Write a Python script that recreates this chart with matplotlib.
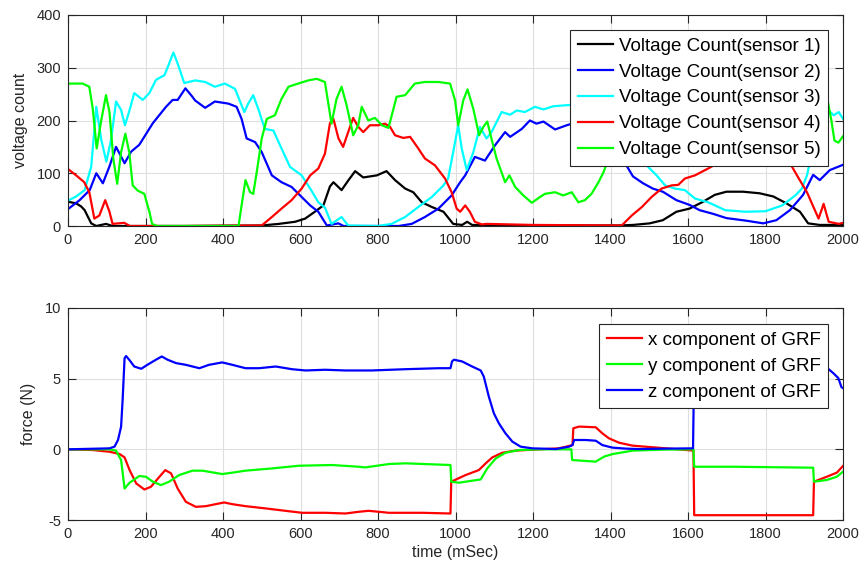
import matplotlib
matplotlib.use("Agg")
import matplotlib.pyplot as plt

plt.rcParams['font.family'] = ['Liberation Sans', 'DejaVu Sans']
plt.rcParams['axes.unicode_minus'] = False

# ---------------- sensor voltage counts ----------------
t1 = [0, 21, 34, 43, 51, 60, 73, 98, 115, 300, 500, 544, 586, 612, 637, 659, 676, 685, 706, 722,
      741, 762, 797, 822, 844, 870, 891, 913, 939, 969, 994, 1017, 1030, 1043, 1100, 1420, 1458,
      1501, 1535, 1570, 1604, 1639, 1669, 1699, 1742, 1785, 1820, 1854, 1889, 1910, 1940, 2000]
s1 = [46, 43, 37, 30, 18, 5, 0, 4, 0, 0, 1, 4, 8, 14, 27, 39, 75, 83, 68, 85,
      104, 92, 96, 104, 87, 71, 64, 45, 36, 27, 4, 2, 8, 2, 1, 1, 2,
      5, 11, 27, 33, 46, 59, 65, 65, 62, 56, 43, 27, 5, 2, 2]

t2 = [0, 30, 56, 73, 90, 107, 124, 146, 163, 184, 219, 253, 270, 283, 303, 321, 328, 354, 379,
      414, 435, 448, 461, 483, 500, 526, 551, 577, 603, 625, 646, 668, 698, 711, 800, 853, 887,
      921, 956, 990, 1012, 1025, 1050, 1076, 1102, 1128, 1141, 1171, 1192, 1209, 1227, 1257,
      1287, 1330, 1380, 1420, 1440, 1458, 1484, 1509, 1535, 1570, 1604, 1630, 1665, 1699, 1751,
      1794, 1828, 1863, 1897, 1923, 1940, 1966, 2000]
s2 = [32, 49, 68, 100, 81, 113, 150, 119, 141, 154, 195, 226, 239, 239, 261, 245, 238, 224, 236,
      232, 226, 203, 166, 159, 140, 96, 83, 74, 55, 39, 27, 1, 5, 0, 0, 0, 4,
      17, 33, 58, 83, 96, 131, 124, 153, 178, 169, 184, 200, 194, 198, 183,
      191, 200, 185, 140, 116, 94, 81, 71, 65, 49, 40, 30, 23, 15, 10,
      5, 11, 30, 59, 97, 87, 106, 116]

t3 = [0, 21, 43, 60, 73, 86, 99, 111, 124, 137, 147, 159, 171, 193, 210, 227, 249, 261, 272, 283,
      300, 328, 354, 379, 405, 431, 455, 465, 478, 491, 508, 530, 551, 573, 603, 625, 646, 663,
      680, 706, 723, 800, 835, 870, 904, 939, 969, 981, 994, 1007, 1016, 1029, 1046, 1063, 1080,
      1093, 1119, 1141, 1158, 1179, 1205, 1227, 1252, 1287, 1340, 1400, 1450, 1493, 1519, 1541,
      1566, 1592, 1618, 1652, 1696, 1748, 1800, 1843, 1877, 1894, 1907, 1920, 1937, 1959, 1976,
      1989, 2000]
s3 = [48, 56, 68, 113, 226, 163, 122, 163, 236, 220, 191, 220, 252, 239, 252, 277, 286, 308, 329, 308,
      271, 276, 273, 264, 270, 260, 216, 232, 248, 222, 184, 181, 147, 112, 96, 71, 45, 35,
      4, 17, 1, 0, 4, 17, 36, 55, 77, 90, 140, 191, 147, 106, 140, 188, 166,
      178, 216, 211, 219, 216, 226, 221, 227, 229, 232, 215, 170, 115, 96, 77,
      71, 68, 52, 45, 30, 27, 28, 39, 58, 71, 96, 140, 197, 222, 210,
      216, 203]

t4 = [0, 21, 42, 55, 68, 81, 96, 107, 115, 145, 160, 300, 500, 526, 551, 577, 603, 625, 646, 663,
      676, 685, 698, 710, 723, 736, 749, 762, 779, 801, 818, 831, 844, 865, 883, 904, 921, 947,
      973, 990, 1003, 1012, 1025, 1037, 1050, 1068, 1080, 1200, 1429, 1455, 1481, 1506, 1532,
      1558, 1575, 1592, 1618, 1652, 1674, 1720, 1780, 1830, 1864, 1886, 1907, 1937, 1950, 1963,
      1989, 2000]
s4 = [108, 96, 83, 64, 14, 20, 49, 27, 4, 6, 0, 0, 1, 17, 33, 49, 71, 96, 109, 137,
      195, 203, 166, 150, 178, 205, 188, 178, 191, 191, 194, 188, 172, 167, 169, 147, 128, 115,
      90, 64, 33, 27, 39, 27, 8, 3, 4, 2, 1, 20, 36, 55, 71,
      77, 78, 90, 96, 109, 118, 140, 160, 150, 118, 90, 64, 14, 42, 8,
      4, 6]

t5 = [0, 38, 55, 64, 74, 85, 98, 107, 117, 127, 137, 148, 158, 167, 180, 197, 210, 217, 230, 440,
      448, 458, 470, 478, 487, 500, 513, 534, 551, 569, 594, 620, 642, 663, 680, 693, 706, 719,
      736, 749, 758, 775, 792, 810, 827, 848, 870, 895, 921, 956, 986, 999, 1007, 1020, 1031,
      1046, 1061, 1072, 1082, 1094, 1106, 1128, 1139, 1154, 1175, 1197, 1218, 1231, 1257, 1278,
      1300, 1317, 1334, 1351, 1369, 1382, 1390, 1420, 1460, 1600, 1800, 1930, 1950, 1960, 1970,
      1978, 1988, 2000]
s5 = [270, 270, 264, 222, 147, 197, 248, 216, 127, 80, 140, 175, 140, 77, 67, 61, 27, 4, 0, 0,
      39, 87, 64, 61, 102, 166, 203, 210, 241, 264, 270, 276, 279, 273, 194, 241, 264, 229,
      172, 191, 226, 200, 205, 191, 186, 245, 248, 270, 273, 273, 270, 238, 191, 238, 259,
      222, 172, 188, 198, 162, 128, 83, 96, 74, 58, 44, 55, 61, 64, 58,
      64, 45, 49, 61, 83, 102, 118, 230, 262, 270, 272, 268, 265, 240, 200,
      162, 158, 170]

sensor_labels = ['Voltage Count(sensor 1)', 'Voltage Count(sensor 2)', 'Voltage Count(sensor 3)',
                 'Voltage Count(sensor 4)', 'Voltage Count(sensor 5)']
sensor_colors = ['#000000', '#0000ff', '#00ffff', '#ff0000', '#00ff00']

# ---------------- ground reaction force components ----------------
tx = [0, 64, 107, 133, 146, 159, 176, 197, 214, 236, 251, 266, 283, 304, 330, 356, 381, 403, 424,
      458, 510, 561, 604, 664, 716, 750, 776, 828, 914, 987, 989, 1026, 1060, 1078, 1095, 1121,
      1155, 1215, 1267, 1293, 1302, 1304, 1319, 1362, 1379, 1396, 1422, 1457, 1544, 1614, 1616,
      1716, 1923, 1925, 1958, 1984, 2000]
fx = [0, -0.05, -0.17, -0.33, -0.57, -1.47, -2.41, -2.84, -2.65, -1.94, -1.47, -1.7, -2.77, -3.71,
      -4.07, -4.02, -3.88, -3.76, -3.88, -4.02, -4.18, -4.35, -4.49, -4.49, -4.54, -4.42, -4.35,
      -4.49, -4.49, -4.54, -2.29, -1.82, -1.47, -0.99, -0.57, -0.24, -0.09, 0, 0.07, 0.24, 0.31,
      1.49, 1.61, 1.56, 1.13, 0.78, 0.47, 0.26, 0.07, -0.09, -4.66, -4.66, -4.66, -2.29, -1.94,
      -1.65, -1.18]

ty = [0, 107, 124, 137, 146, 159, 184, 201, 219, 240, 261, 287, 321, 347, 398, 424, 458, 527,
      596, 681, 750, 767, 828, 871, 987, 989, 1009, 1065, 1082, 1104, 1129, 1164, 1215, 1299,
      1301, 1362, 1372, 1385, 1406, 1458, 1540, 1614, 1616, 1716, 1923, 1925, 1958, 1984, 2000]
fy = [0, 0, -0.09, -0.76, -2.77, -2.36, -1.89, -1.94, -2.29, -2.53, -2.29, -1.82, -1.51, -1.51,
      -1.75, -1.65, -1.51, -1.35, -1.16, -1.11, -1.23, -1.28, -1.04, -0.99, -1.11, -2.29, -2.36,
      -2.13, -1.35, -0.64, -0.24, -0.05, 0, 0, -0.76, -0.87, -0.7, -0.5, -0.33, -0.09, -0.02, 0,
      -1.23, -1.23, -1.3, -2.29, -2.17, -1.94, -1.58]

tz = [0, 107, 120, 129, 137, 141, 146, 150, 159, 171, 189, 206, 227, 242, 257, 279, 304, 339, 364,
      398, 424, 458, 493, 536, 578, 613, 664, 716, 750, 784, 871, 957, 987, 991, 996, 1017, 1043,
      1065, 1073, 1086, 1099, 1112, 1129, 1147, 1168, 1198, 1259, 1293, 1302, 1306, 1336, 1362,
      1379, 1405, 1440, 1474, 1544, 1613, 1616, 1640, 1800, 1940, 1960, 1975, 1988, 1996, 2000]
fz = [0, 0.07, 0.19, 0.66, 1.6, 3.5, 6.45, 6.6, 6.3, 5.86, 5.7, 6.0, 6.34, 6.57, 6.34, 6.1, 5.98,
      5.74, 5.98, 6.15, 5.98, 5.74, 5.74, 5.86, 5.67, 5.58, 5.63, 5.58, 5.58, 5.58, 5.67, 5.74,
      5.74, 6.22, 6.34, 6.22, 5.86, 5.58, 5.15, 3.73, 2.55, 1.84, 1.13, 0.54, 0.19, 0.07, 0.02,
      0.19, 0.3, 0.66, 0.66, 0.61, 0.3, 0.12, 0.05, 0.02, 0.05, 0.07, 6.2, 6.3, 6.1, 6.0, 5.74,
      5.39, 5.04, 4.4, 4.33]

grf_labels = ['x component of GRF', 'y component of GRF', 'z component of GRF']
grf_colors = ['#ff0000', '#00ff00', '#0000ff']

x_ticks = list(range(0, 2001, 200))
count_ticks = [0, 100, 200, 300, 400]
force_ticks = [-5, 0, 5, 10]

# ---------------- figure ----------------
W, H = 864, 577
fig = plt.figure(figsize=(W / 100, H / 100), dpi=100)
ax1 = fig.add_axes([68 / W, 1 - 226 / H, 775 / W, 211 / H])
ax2 = fig.add_axes([68 / W, 1 - 520 / H, 775 / W, 212 / H])

edge = '#262626'


def style(ax):
    ax.set_xlim(0, 2000)
    ax.set_xticks(x_ticks)
    ax.grid(True, color='#dfdfdf', linewidth=0.8)
    ax.set_axisbelow(True)
    for sp in ax.spines.values():
        sp.set_color(edge)
        sp.set_linewidth(0.8)
    ax.tick_params(direction='in', length=5.5, width=0.8, colors=edge,
                   top=True, right=True, labelsize=10.5, pad=5)


def legend(ax, anchor):
    leg = ax.legend(loc='upper right', bbox_to_anchor=anchor, borderaxespad=0,
                    fontsize=13.5, handlelength=1.9, handletextpad=0.3, labelspacing=0.47,
                    borderpad=0.4, fancybox=False, framealpha=1, edgecolor=edge)
    leg.get_frame().set_linewidth(0.8)
    return leg


lw = 1.6
for t, s, c, lab in zip([t1, t2, t3, t4, t5], [s1, s2, s3, s4, s5], sensor_colors, sensor_labels):
    ax1.plot(t, s, color=c, lw=lw, label=lab, solid_joinstyle='round')
style(ax1)
ax1.set_ylim(0, 400)
ax1.set_yticks(count_ticks)
ax1.set_ylabel('voltage count', fontsize=11.5, color=edge, labelpad=6)
legend(ax1, (0.981, 0.929))

for t, f, c, lab in zip([tx, ty, tz], [fx, fy, fz], grf_colors, grf_labels):
    ax2.plot(t, f, color=c, lw=lw, label=lab, solid_joinstyle='round')
style(ax2)
ax2.set_ylim(-5, 10)
ax2.set_yticks(force_ticks)
ax2.set_ylabel('force (N)', fontsize=11.5, color=edge, labelpad=6)
ax2.set_xlabel('time (mSec)', fontsize=11.5, color=edge, labelpad=3)
legend(ax2, (0.981, 0.9245))

fig.savefig('out.png', dpi=100)
